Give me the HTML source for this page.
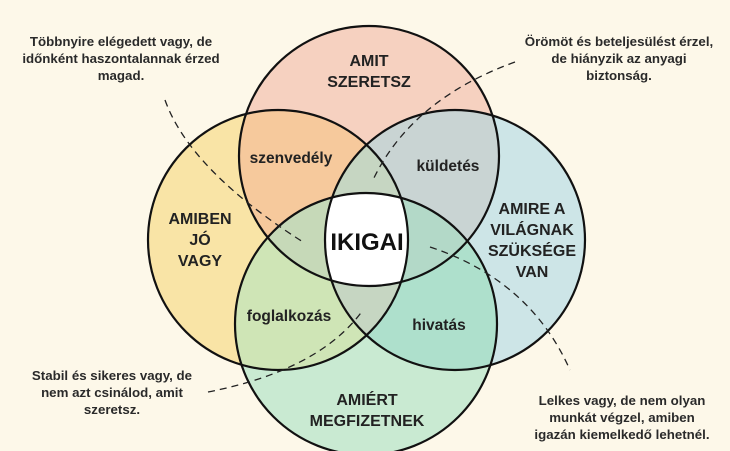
<!DOCTYPE html>
<html><head><meta charset="utf-8"><style>
html,body{margin:0;padding:0;background:#fdf8e9;}
svg{display:block;}
text{font-family:"Liberation Sans",sans-serif;fill:#222;}
.c{font-size:13.3px;font-weight:bold;fill:#2a2a2a;}
.m{font-size:16px;font-weight:bold;}
.s{font-size:15.5px;font-weight:bold;}
</style></head><body>
<svg width="730" height="451" viewBox="0 0 730 451">
<defs>
<clipPath id="cl"><circle cx="278" cy="240" r="130"/></clipPath>
<clipPath id="ct"><circle cx="369" cy="156" r="130"/></clipPath>
<clipPath id="cb"><circle cx="366" cy="324" r="131"/></clipPath>
</defs>
<rect width="730" height="451" fill="#fdf8e9"/>
<circle cx="369" cy="156" r="130" fill="#f6d1c0"/>
<circle cx="278" cy="240" r="130" fill="#f9e4a6"/>
<circle cx="455" cy="240" r="130" fill="#cde5e7"/>
<circle cx="366" cy="324" r="131" fill="#c9ead2"/>
<g clip-path="url(#ct)"><circle cx="278" cy="240" r="130" fill="#f6c99c"/></g>
<g clip-path="url(#ct)"><circle cx="455" cy="240" r="130" fill="#c9d4d3"/></g>
<g clip-path="url(#cb)"><circle cx="278" cy="240" r="130" fill="#cfe5b6"/></g>
<g clip-path="url(#cb)"><circle cx="455" cy="240" r="130" fill="#aee0cc"/></g>
<g clip-path="url(#cl)"><circle cx="455" cy="240" r="130" fill="#c6d6c2"/></g>
<g clip-path="url(#ct)"><g clip-path="url(#cb)"><circle cx="278" cy="240" r="130" fill="#c6d9b8"/><circle cx="455" cy="240" r="130" fill="#b3d9c8"/></g></g>
<g clip-path="url(#ct)"><g clip-path="url(#cb)"><g clip-path="url(#cl)"><circle cx="455" cy="240" r="130" fill="#ffffff"/></g></g></g>
<g fill="none" stroke="#111" stroke-width="2.2">
<circle cx="369" cy="156" r="130"/>
<circle cx="278" cy="240" r="130"/>
<circle cx="455" cy="240" r="130"/>
<circle cx="366" cy="324" r="131"/>
</g>
<g fill="none" stroke="#222" stroke-width="1.3" stroke-dasharray="7,5">
<path d="M165 100 Q190 170 303 242"/>
<path d="M515 62 Q410 100 372 182"/>
<path d="M208 392 Q320 370 363 310"/>
<path d="M430 247 Q530 280 570 370"/>
</g>
<text class="m" text-anchor="middle" x="369" y="66">AMIT</text>
<text class="m" text-anchor="middle" x="369" y="87">SZERETSZ</text>
<text class="m" text-anchor="middle" x="200" y="224">AMIBEN</text>
<text class="m" text-anchor="middle" x="200" y="245">JÓ</text>
<text class="m" text-anchor="middle" x="200" y="266">VAGY</text>
<text class="m" text-anchor="middle" x="532" y="214">AMIRE A</text>
<text class="m" text-anchor="middle" x="532" y="235">VILÁGNAK</text>
<text class="m" text-anchor="middle" x="532" y="256">SZÜKSÉGE</text>
<text class="m" text-anchor="middle" x="532" y="277">VAN</text>
<text class="m" text-anchor="middle" x="367" y="405">AMIÉRT</text>
<text class="m" text-anchor="middle" x="367" y="426">MEGFIZETNEK</text>
<text class="s" text-anchor="middle" x="291" y="163">szenvedély</text>
<text class="s" text-anchor="middle" x="448" y="171">küldetés</text>
<text class="s" text-anchor="middle" x="289" y="321">foglalkozás</text>
<text class="s" text-anchor="middle" x="439" y="330">hivatás</text>
<text text-anchor="middle" x="367" y="250" style="font-size:24px;font-weight:bold;fill:#111">IKIGAI</text>
<text class="c" text-anchor="middle" x="121" y="46">Többnyire elégedett vagy, de</text>
<text class="c" text-anchor="middle" x="121" y="63">időnként haszontalannak érzed</text>
<text class="c" text-anchor="middle" x="121" y="80">magad.</text>
<text class="c" text-anchor="middle" x="619" y="46">Örömöt és beteljesülést érzel,</text>
<text class="c" text-anchor="middle" x="619" y="63">de hiányzik az anyagi</text>
<text class="c" text-anchor="middle" x="619" y="80">biztonság.</text>
<text class="c" text-anchor="middle" x="112" y="380">Stabil és sikeres vagy, de</text>
<text class="c" text-anchor="middle" x="112" y="397">nem azt csinálod, amit</text>
<text class="c" text-anchor="middle" x="112" y="414">szeretsz.</text>
<text class="c" text-anchor="middle" x="622" y="405">Lelkes vagy, de nem olyan</text>
<text class="c" text-anchor="middle" x="622" y="422">munkát végzel, amiben</text>
<text class="c" text-anchor="middle" x="622" y="439">igazán kiemelkedő lehetnél.</text>
</svg>
</body></html>
